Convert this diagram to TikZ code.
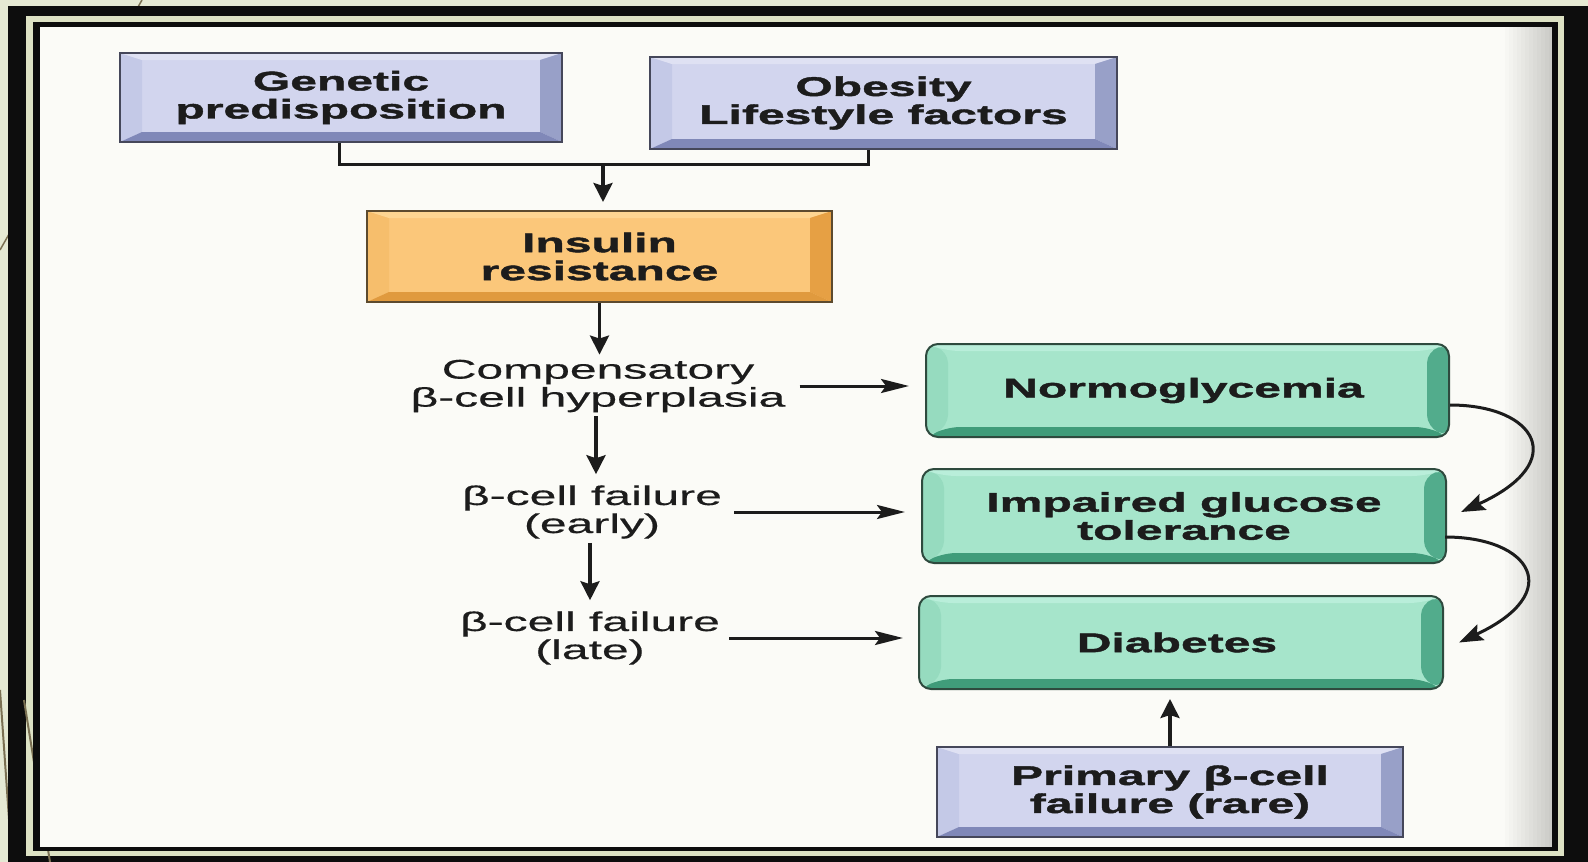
\documentclass[tikz,border=0pt]{standalone}
\usepackage{fontspec}
\setmainfont{Liberation Sans}[FakeStretch=1.78, UprightFeatures={FakeBold=0.5}, BoldFeatures={FakeBold=1.6}]
\usetikzlibrary{arrows.meta,calc}
\definecolor{pagebg}{HTML}{E5E9D3}
\definecolor{framecream}{HTML}{DDE2C4}
\definecolor{paper}{HTML}{FBFBF7}
\definecolor{olive}{HTML}{7A7052}
\definecolor{bface}{HTML}{D2D5EE}
\definecolor{bleft}{HTML}{C4C9E7}
\definecolor{btop}{HTML}{DFE1F3}
\definecolor{bright}{HTML}{98A0C8}
\definecolor{bbot}{HTML}{8088B8}
\definecolor{bline}{HTML}{45475A}
\definecolor{oface}{HTML}{FBC77A}
\definecolor{oleft}{HTML}{F6BE6C}
\definecolor{otop}{HTML}{FDD592}
\definecolor{oright}{HTML}{E6A044}
\definecolor{obot}{HTML}{E09A3E}
\definecolor{oline}{HTML}{5C4A2E}
\definecolor{gface}{HTML}{A6E5CB}
\definecolor{gleft}{HTML}{96DBBF}
\definecolor{gtop}{HTML}{B9EEDA}
\definecolor{gright}{HTML}{52AC8C}
\definecolor{gbot}{HTML}{409C7A}
\definecolor{gline}{HTML}{2E4A3E}
\definecolor{ink}{HTML}{1C1C1C}
\tikzset{
  bev/.style n args={6}{fill=#1, draw=#6, line width=2pt, inner sep=0pt,
    text=ink, align=center, font=\fontsize{27}{28}\selectfont\bfseries,
    path picture={
      \fill[#2] (path picture bounding box.north west) -- (path picture bounding box.south west)
        -- ([shift={(22pt,10pt)}]path picture bounding box.south west)
        -- ([shift={(22pt,-7pt)}]path picture bounding box.north west) -- cycle;
      \fill[#3] (path picture bounding box.north west) -- (path picture bounding box.north east)
        -- ([shift={(-22pt,-7pt)}]path picture bounding box.north east)
        -- ([shift={(22pt,-7pt)}]path picture bounding box.north west) -- cycle;
      \fill[#4] (path picture bounding box.north east) -- (path picture bounding box.south east)
        -- ([shift={(-22pt,10pt)}]path picture bounding box.south east)
        -- ([shift={(-22pt,-7pt)}]path picture bounding box.north east) -- cycle;
      \fill[#5] (path picture bounding box.south west) -- (path picture bounding box.south east)
        -- ([shift={(-22pt,10pt)}]path picture bounding box.south east)
        -- ([shift={(22pt,10pt)}]path picture bounding box.south west) -- cycle;
    }},
  bluebox/.style={bev={bface}{bleft}{btop}{bright}{bbot}{bline}},
  orangebox/.style={bev={oface}{oleft}{otop}{oright}{obot}{oline}},
  greenbox/.style={bev={gface}{gleft}{gtop}{gright}{gbot}{gline}, rounded corners=12pt},
  label/.style={text=ink, align=center, inner sep=2pt, font=\fontsize{27}{28}\selectfont},
  conn/.style={line width=3pt, draw=ink},
  varrow/.style={line width=3.5pt, draw=ink, -{Stealth[length=19pt,width=19pt,inset=3pt]}},
  harrow/.style={line width=3pt, draw=ink, -{Stealth[length=28pt,width=14pt,inset=5pt]}},
  carrow/.style={line width=3pt, draw=ink, -{Stealth[length=24pt,width=17pt,inset=4pt]}},
}
\begin{document}
\begin{tikzpicture}[x=1pt,y=-1pt]
\useasboundingbox (0,0) rectangle (1588,862);
% slide background and frame
\fill[pagebg] (0,0) rectangle (1588,862);
\draw[olive, line width=1.5pt] (142,0) -- (0,250);
\draw[olive, line width=2pt] (0,690) -- (12,862);
\fill[black!95] (8,6) rectangle (1588,862);
\fill[framecream] (26,16) rectangle (1564,856);
\draw[olive, line width=2pt] (24,700) -- (50,862);
\fill[black!95] (33,22) rectangle (1558,851);
\fill[paper] (40,27) rectangle (1552,847);
\foreach \i in {0,...,11}
  \fill[black, opacity=0.014] ({1505+\i*4},27) rectangle (1552,847);

% boxes
\node[bluebox, minimum width=442pt, minimum height=89pt] (gen) at (341,97.5) {Genetic\\predisposition};
\node[bluebox, minimum width=467pt, minimum height=92pt] (obe) at (883.5,103) {Obesity\\Lifestyle factors};
\node[orangebox, minimum width=465pt, minimum height=91pt] (ins) at (599.5,256.5) {Insulin\\resistance};
\node[greenbox, minimum width=523pt, minimum height=93pt] (nor) at (1187.5,390.5) {\hspace*{-8pt}Normoglycemia};
\node[greenbox, minimum width=524pt, minimum height=94pt] (igt) at (1184,516) {Impaired glucose\\tolerance};
\node[greenbox, minimum width=524pt, minimum height=93pt] (dia) at (1181,642.5) {\hspace*{-8pt}Diabetes};
\node[bluebox, minimum width=466pt, minimum height=90pt] (pri) at (1170,792) {Primary β-cell\\failure (rare)};

% text labels
\node[label] (comp) at (598,386) {Compensatory\\β-cell hyperplasia};
\node[label] (early) at (592,512) {β-cell failure\\(early)};
\node[label] (late) at (590,638) {β-cell failure\\(late)};

% connectors
\coordinate (j) at (603,164);
\draw[conn] ([xshift=-2pt]gen.south) |- (j) -| ([xshift=-15.5pt]obe.south);
\draw[varrow, shorten >=8pt] (j) -- (j |- ins.north);
\draw[varrow, shorten >=3pt] (ins.south) -- (ins.south |- comp.north);
\draw[varrow, shorten <=2pt, shorten >=9pt] (comp.south -| 596,0) -- (early.north -| 596,0);
\draw[varrow, shorten <=2pt, shorten >=9pt] (early.south -| 590,0) -- (late.north -| 590,0);
\draw[harrow, shorten <=12pt, shorten >=16pt] (comp.east) -- (comp.east -| nor.west);
\draw[harrow, shorten <=10pt, shorten >=16pt] (early.east) -- (early.east -| igt.west);
\draw[harrow, shorten <=7pt, shorten >=15pt] (late.east) -- (late.east -| dia.west);
\draw[carrow] ([yshift=-14.5pt]nor.east) .. controls +(86,0) and +(110,-50) .. ([shift={(14pt,4pt)}]igt.east);
\draw[carrow] ([shift={(-2pt,-21pt)}]igt.east) .. controls +(86,0) and +(107,-50) .. ([xshift=15pt]dia.east);
\draw[varrow, shorten >=9pt] (pri.north) -- (pri.north |- dia.south);
\end{tikzpicture}
\end{document}
